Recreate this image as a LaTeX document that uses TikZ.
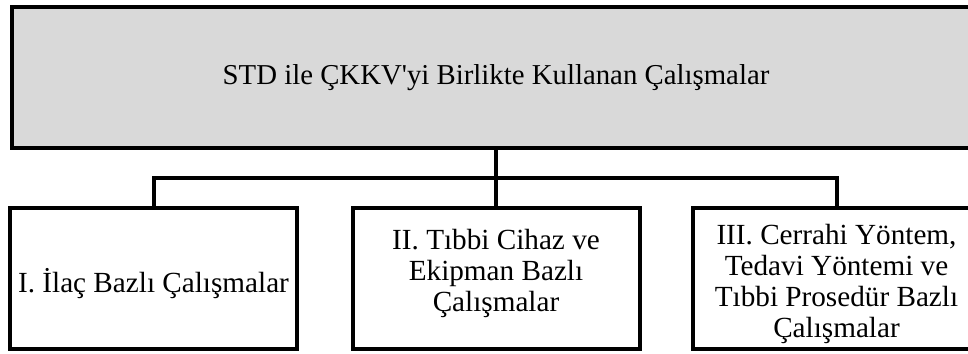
\documentclass[tikz,border=0pt]{standalone}
\usepackage{fontspec}
\setmainfont{Liberation Serif}[Ligatures=TeXOff]
\begin{document}
\begin{tikzpicture}[x=1pt,y=1pt,
  frame/.style={draw=black, line width=4pt, rectangle, inner sep=0pt, outer sep=0pt},
  topbox/.style={frame, fill=topgray, minimum width=968pt, minimum height=140.5pt,
     font=\fontsize{28.8}{31}\selectfont, align=center},
  childbox/.style={frame, fill=white, minimum width=287pt, minimum height=141pt},
  childtext/.style={font=\fontsize{29.2}{31}\selectfont, align=center, inner sep=0pt},
  link/.style={draw=black, line width=4pt}]
\definecolor{topgray}{HTML}{D9D9D9}
\useasboundingbox (0,0) rectangle (968,-353);
\clip (0,0) rectangle (968,-353);
\node[topbox] (top) at (496,-77.25) {STD ile ÇKKV'yi Birlikte Kullanan Çalışmalar};
\node[childbox] (b1) at (153.5,-278.5) {};
\node[childbox] (b2) at (496,-278.5) {};
\node[childbox] (b3) at (836.5,-278.5) {};
\node[childtext] (t1) at (153.5,-284) {I. İlaç Bazlı Çalışmalar};
\node[childtext] (t2) at (496,-273) {II. Tıbbi Cihaz ve\\Ekipman Bazlı\\Çalışmalar};
\node[childtext] (t3) at (836.5,-284) {III. Cerrahi Yöntem,\\Tedavi Yöntemi ve\\Tıbbi Prosedür Bazlı\\Çalışmalar};
\coordinate (j) at (496,-177.5);
\draw[link] (top.south) -- (b2.north);
\draw[link] (b1.north) -- (b1.north |- j) -- (b3.north |- j) -- (b3.north);
\end{tikzpicture}
\end{document}
